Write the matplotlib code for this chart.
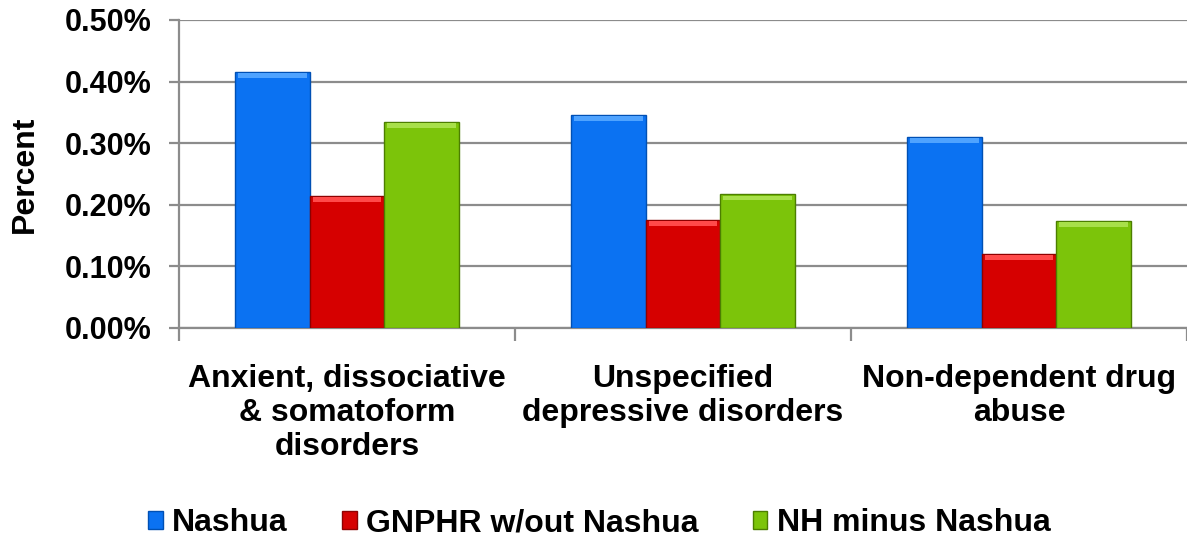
import matplotlib
matplotlib.use("Agg")
import matplotlib.pyplot as plt
import numpy as np
from matplotlib.ticker import FuncFormatter, FixedLocator

# data (values in percent)
CATEGORIES = [
    "Anxient, dissociative\n& somatoform\ndisorders",
    "Unspecified\ndepressive disorders",
    "Non-dependent drug\nabuse",
]
SERIES = ["Nashua", "GNPHR w/out Nashua", "NH minus Nashua"]
NASHUA = [0.416, 0.346, 0.310]
GNPHR = [0.215, 0.175, 0.120]
NH_MINUS = [0.334, 0.217, 0.174]
Y_TICKS = [0.0, 0.1, 0.2, 0.3, 0.4, 0.5]

COLORS = ["#0B72F2", "#D60000", "#7CC40A"]
EDGES = ["#0050B4", "#8E0000", "#4C7E00"]
LIGHTS = ["#4FA3FF", "#FF4A4A", "#A8E04A"]

plt.rcParams["font.family"] = ["Liberation Sans", "DejaVu Sans"]
plt.rcParams["font.weight"] = "bold"

fig = plt.figure(figsize=(11.87, 5.4), dpi=100)
ax = fig.add_axes([0.1508, 0.3926, 0.8492, 0.5704])

x = np.arange(len(CATEGORIES))
width = 0.222
values = [NASHUA, GNPHR, NH_MINUS]

for i, (name, vals) in enumerate(zip(SERIES, values)):
    pos = x + (i - 1) * width
    ax.bar(pos, vals, width, color=COLORS[i], edgecolor=EDGES[i],
           linewidth=1.0, label=name, zorder=3)
    # simple bevel highlight along the top of each bar
    cap = 0.008
    ax.bar(pos, [cap] * len(vals), width * 0.92,
           bottom=[v - cap - 0.002 for v in vals],
           color=LIGHTS[i], linewidth=0, zorder=4)

ax.set_xlim(-0.5, 2.5)
ax.set_ylim(0, 0.5)
ax.yaxis.set_major_locator(FixedLocator(Y_TICKS))
ax.yaxis.set_major_formatter(FuncFormatter(lambda v, p: f"{v:.2f}%"))
ax.grid(axis="y", color="#8C8C8C", linewidth=1.6, zorder=0)

ax.set_xticks(x)
ax.set_xticklabels(CATEGORIES, fontsize=23, fontweight="bold", linespacing=1.18)
ax.set_xticks([-0.5, 0.5, 1.5, 2.5], minor=True)
ax.tick_params(axis="x", which="major", length=0, pad=26)
ax.tick_params(axis="x", which="minor", length=9, width=1.6, color="#8C8C8C")
ax.tick_params(axis="y", length=7, width=1.6, color="#8C8C8C", labelsize=22, pad=13)
for lab in ax.get_yticklabels():
    lab.set_fontweight("bold")

for s in ["top", "right"]:
    ax.spines[s].set_visible(False)
for s in ["left", "bottom"]:
    ax.spines[s].set_color("#8C8C8C")
    ax.spines[s].set_linewidth(1.6)

ax.set_ylabel("Percent", fontsize=23, fontweight="bold", labelpad=18)

handles, labels = ax.get_legend_handles_labels()
fig.legend(handles, labels, loc="lower center", bbox_to_anchor=(0.505, -0.05),
           ncol=3, frameon=False, fontsize=23, handlelength=0.45,
           handleheight=0.5, handletextpad=0.3, columnspacing=1.7)

fig.savefig("out.png", dpi=100)
